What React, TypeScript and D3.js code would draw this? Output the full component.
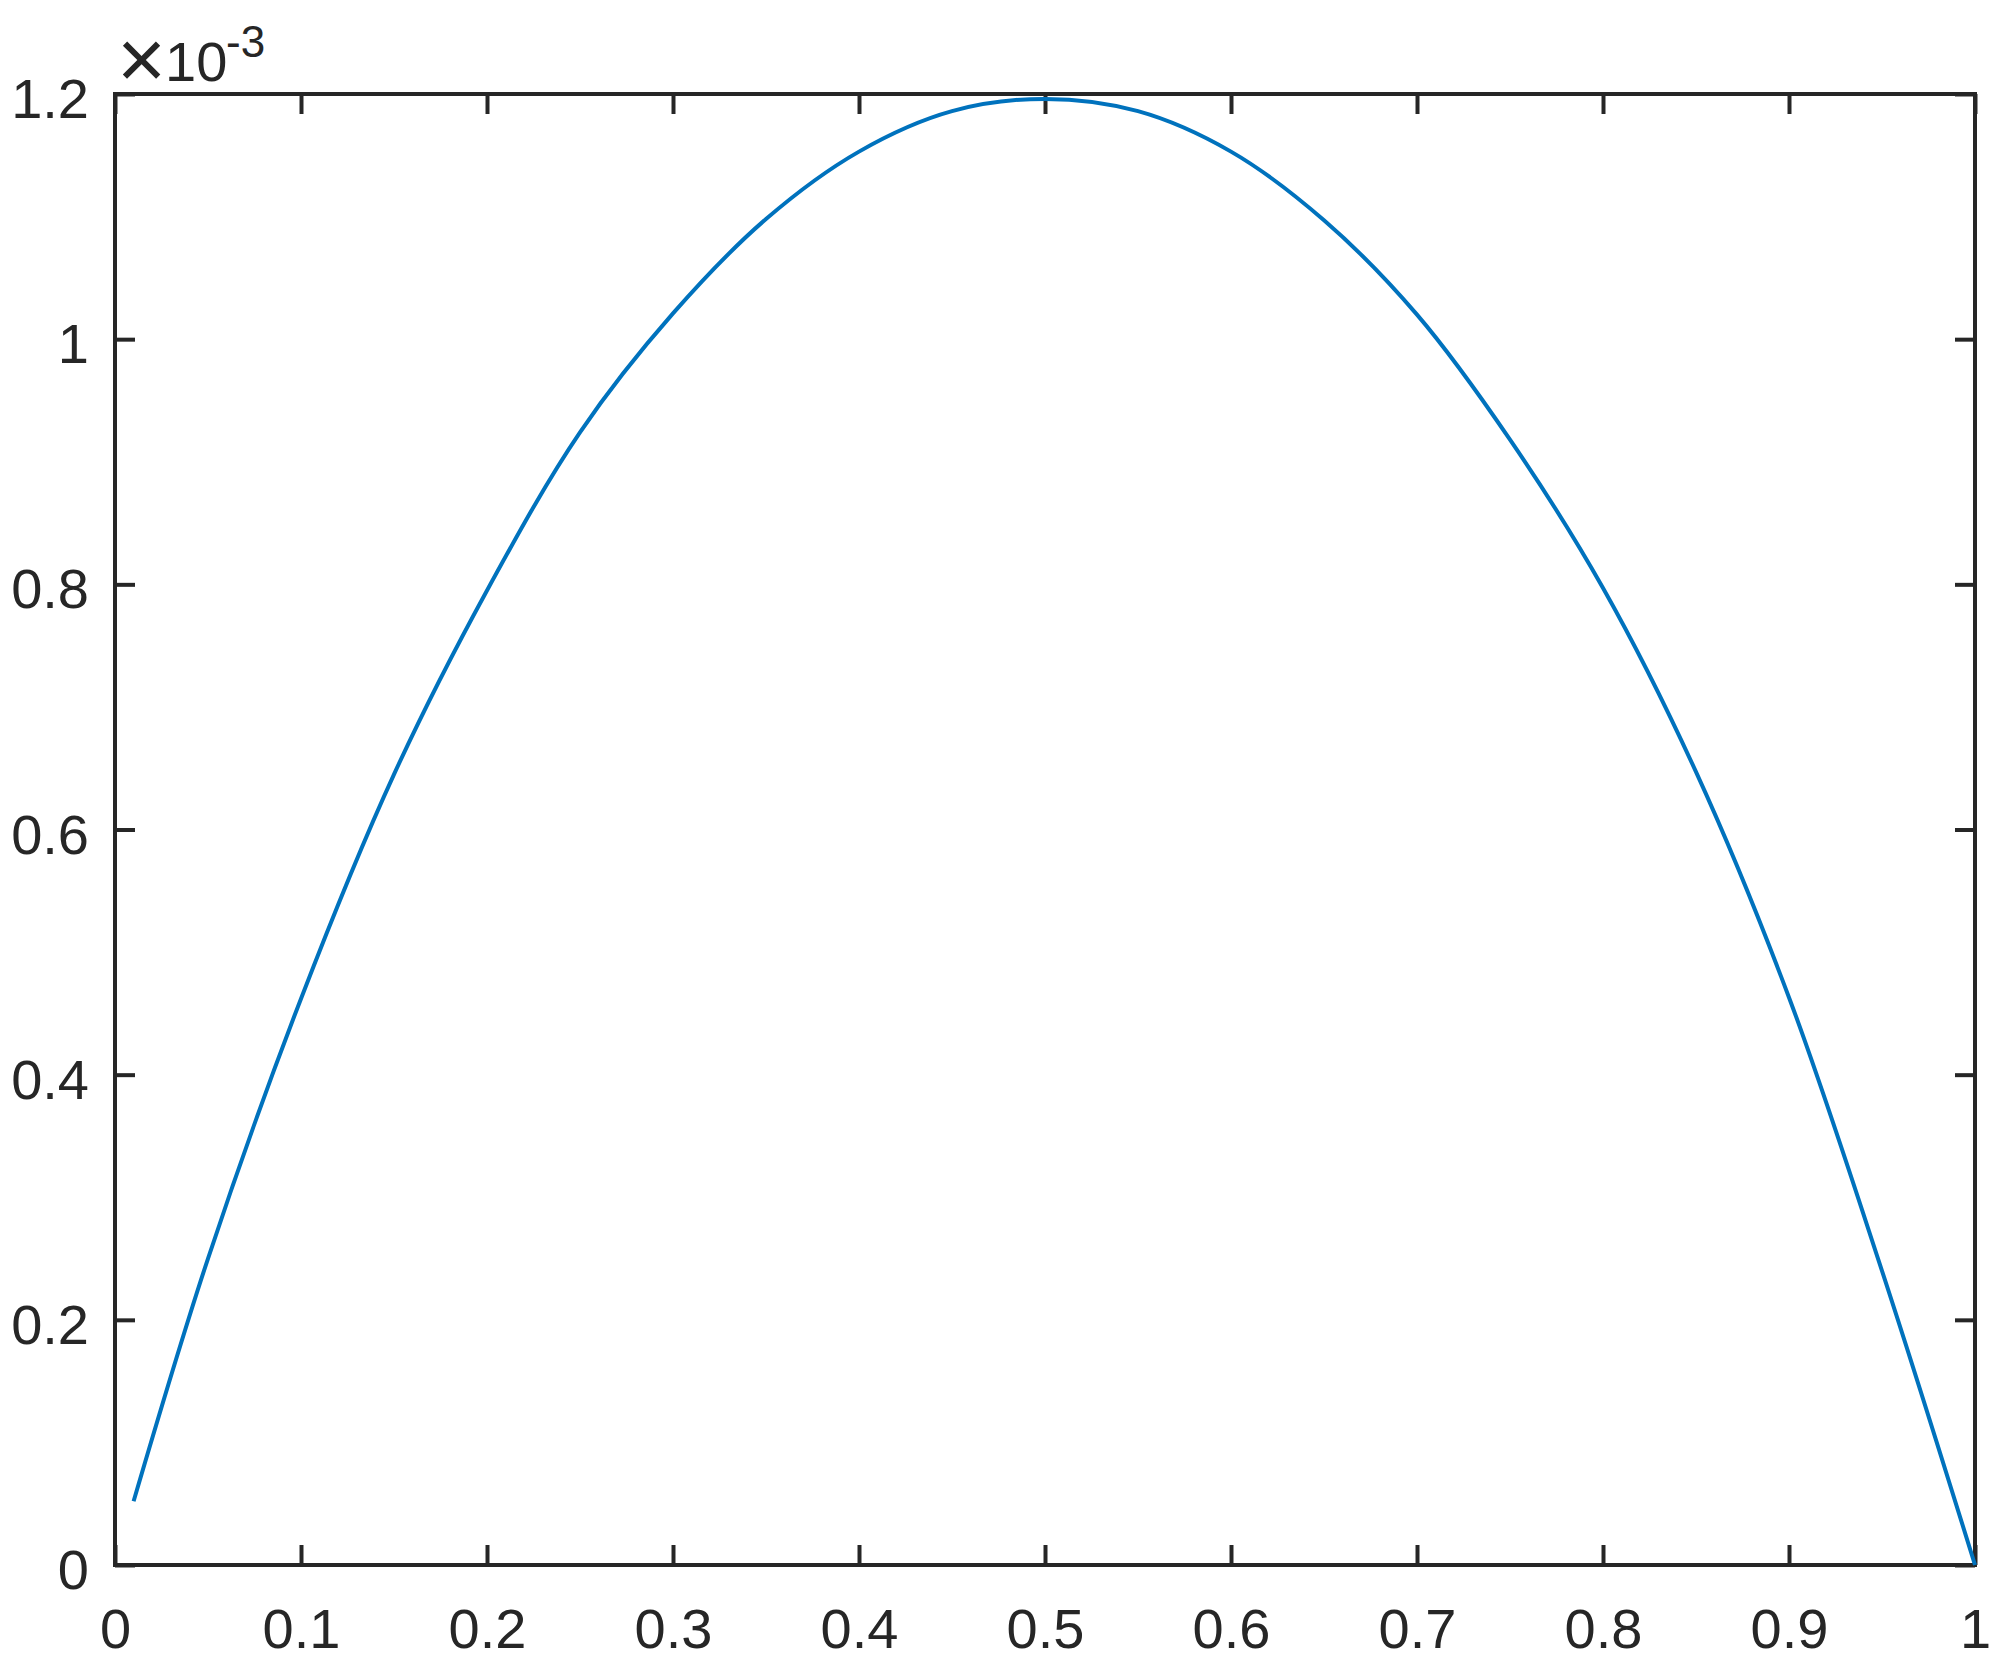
import React from "react";
import * as d3 from "d3";

// values (y in units of 1e-3)
const xValues = [
  0.01, 0.05, 0.1, 0.15, 0.2, 0.25, 0.3, 0.35, 0.4, 0.45, 0.5, 0.55, 0.6,
  0.65, 0.7, 0.75, 0.8, 0.85, 0.9, 0.95, 1.0,
];
const yValues = [
  0.052, 0.25, 0.462, 0.645, 0.795, 0.924, 1.021, 1.098, 1.153, 1.186, 1.196,
  1.186, 1.153, 1.097, 1.02, 0.918, 0.797, 0.647, 0.463, 0.24, 0.0,
];
const xTicks = [0, 0.1, 0.2, 0.3, 0.4, 0.5, 0.6, 0.7, 0.8, 0.9, 1];
const yTicks = [0, 0.2, 0.4, 0.6, 0.8, 1, 1.2];
const exponentLabel = "-3";

const W = 2001;
const H = 1672;
const margin = { left: 115, right: 26, top: 94, bottom: 107 };
const ink = "#262626";
const font = "'Liberation Sans', Arial, Helvetica, sans-serif";

const App = () => {
  const svgRef = React.useRef<SVGSVGElement>(null);

  React.useEffect(() => {
    const width = W - margin.left - margin.right;
    const height = H - margin.top - margin.bottom;

    const x = d3.scaleLinear().domain([0, 1]).range([0, width]);
    const y = d3.scaleLinear().domain([0, 1.2]).range([height, 0]);
    const fmt = (d: any) => String(d);

    const svgEl = d3.select(svgRef.current);
    svgEl.selectAll("*").remove();
    const svg = svgEl
      .append("g")
      .attr("transform", `translate(${margin.left},${margin.top})`);

    // 축 스타일 공통
    const style = (g: any) => {
      g.select(".domain").remove();
      g.selectAll("line").attr("stroke", ink).attr("stroke-width", 4);
      g.selectAll("text")
        .attr("fill", ink)
        .attr("font-family", font)
        .attr("font-size", 56);
    };

    // bottom / top
    svg
      .append("g")
      .attr("transform", `translate(0,${height})`)
      .call(d3.axisBottom(x).tickValues(xTicks).tickFormat(fmt).tickSize(-20).tickPadding(43))
      .call(style);
    svg
      .append("g")
      .call(d3.axisTop(x).tickValues(xTicks).tickSize(-20).tickFormat(() => ""))
      .call(style);

    // left / right
    const yl = svg
      .append("g")
      .call(d3.axisLeft(y).tickValues(yTicks).tickFormat(fmt).tickSize(-20).tickPadding(26))
      .call(style);
    yl.selectAll("text").attr("dy", "0.42em");
    svg
      .append("g")
      .attr("transform", `translate(${width},0)`)
      .call(d3.axisRight(y).tickValues(yTicks).tickSize(-20).tickFormat(() => ""))
      .call(style);

    // box
    svg
      .append("rect")
      .attr("x", 0)
      .attr("y", 0)
      .attr("width", width)
      .attr("height", height)
      .attr("fill", "none")
      .attr("stroke", ink)
      .attr("stroke-width", 4);

    // curve
    const points = xValues.map((v, i) => [v, yValues[i]] as [number, number]);
    const line = d3
      .line<[number, number]>()
      .x((d) => x(d[0]))
      .y((d) => y(d[1]))
      .curve(d3.curveCatmullRom.alpha(0.5));
    svg
      .append("path")
      .attr("fill", "none")
      .attr("stroke", "#0072BD")
      .attr("stroke-width", 4)
      .attr("stroke-linejoin", "round")
      .attr("d", line(points));

    // exponent label (×10^-3)
    const lbl = svg
      .append("g")
      .attr("fill", ink)
      .attr("font-family", font);
    lbl
      .append("text")
      .attr("x", 2)
      .attr("y", -6)
      .attr("font-size", 84)
      .text("×");
    lbl
      .append("text")
      .attr("x", 50)
      .attr("y", -13)
      .attr("font-size", 56)
      .text("10");
    lbl
      .append("text")
      .attr("x", 111)
      .attr("y", -37)
      .attr("font-size", 44)
      .text(exponentLabel);
  }, []);

  return (
    <svg
      ref={svgRef}
      width={W}
      height={H}
      style={{ position: "absolute", left: 0, top: 0, background: "#fff" }}
    />
  );
};

export default App;
